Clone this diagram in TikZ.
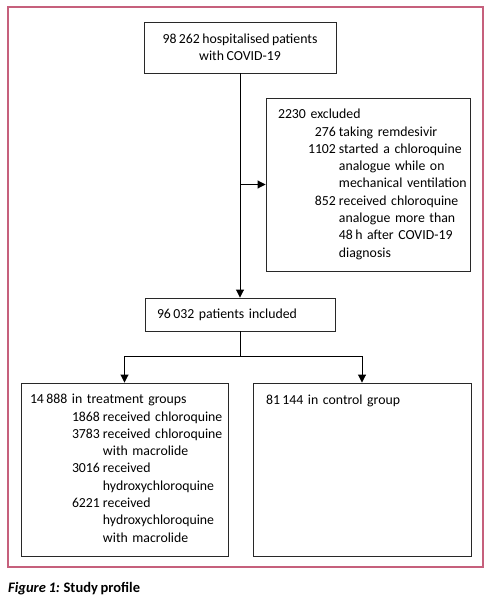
\documentclass[tikz,border=0pt]{standalone}
\usepackage{fontspec}
\setmainfont{Carlito}[WordSpace=0.8]
\usepackage{xcolor}
\usepackage{tikz}
\usetikzlibrary{arrows.meta,positioning,calc}
\definecolor{framered}{RGB}{198,96,124}
\definecolor{boxline}{RGB}{40,40,40}

\begin{document}
\begin{tikzpicture}[x=1pt,y=-1pt,font=\fontsize{13.8pt}{17.3pt}\selectfont,
  >={Triangle[length=8pt,width=8pt]},
  box/.style={draw=boxline,line width=0.9pt,inner ysep=0pt,align=left,text=black},
  lnk/.style={line width=0.9pt,black}]
\useasboundingbox (0,0) rectangle (495,599);
\draw[framered,line width=1.2pt] (8,7) rectangle (483,567);
\node[box,align=center,minimum width=192pt,minimum height=51pt] (H) at (240,47.5)
  {98\,262 hospitalised patients\\with COVID-19};
\node[box,text width=180pt,inner xsep=12pt,minimum height=173pt] (E) at (368,184.5) {%
\begin{tabular}{@{\hspace{30pt}}r@{\hspace{3pt}}l@{}}
\multicolumn{2}{@{}l}{2230 excluded}\\
276 & taking remdesivir\\
1102 & started a chloroquine\\
 & analogue while on\\
 & mechanical ventilation\\
852 & received chloroquine\\
 & analogue more than\\
 & 48\,h after COVID-19\\
 & diagnosis
\end{tabular}};
\node[box,text width=166pt,inner xsep=12pt,minimum height=33pt] (I) at (240,314.5)
  {96\,032 patients included};
\node[box,text width=189pt,inner xsep=9pt,minimum height=173pt] (T) at (124.5,469.5) {%
\begin{tabular}{@{\hspace{42pt}}r@{\hspace{3pt}}l@{}}
\multicolumn{2}{@{}l}{14\,888 in treatment groups}\\
1868 & received chloroquine\\
3783 & received chloroquine\\
 & with macrolide\\
3016 & received\\
 & hydroxychloroquine\\
6221 & received\\
 & hydroxychloroquine\\
 & with macrolide
\end{tabular}};
\node[box,text width=192pt,inner xsep=13pt,inner ysep=9pt,text height=12pt,text depth=143pt] (C) at (362,469.5)
  {81\,144 in control group};
\draw[lnk,->] (H) -- (I);
\draw[lnk,->] (H.south |- E.west) -- (E.west);
\draw[lnk] (I.south) -- ++(0,25) coordinate (S);
\draw[lnk,->] (S) -| (T.north);
\draw[lnk,->] (S) -| (C.north);
\node[anchor=base west,inner sep=0pt,font=\fontsize{14.5pt}{17pt}\selectfont\bfseries] (cap) at (8,592)
  {\textit{Figure 1:} Study profile};
\end{tikzpicture}
\end{document}
